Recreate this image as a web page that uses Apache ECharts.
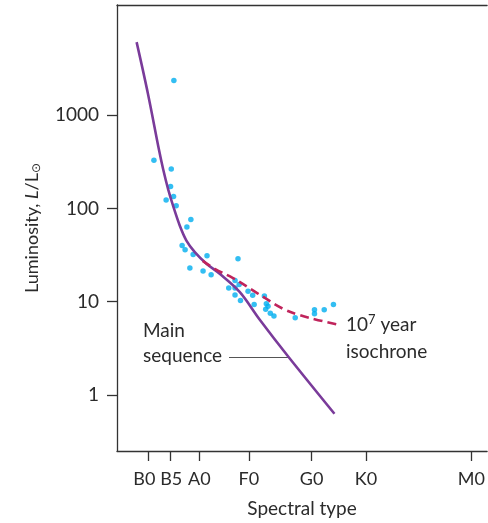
<!DOCTYPE html>
<html>
<head>
<meta charset="utf-8">
<script src="https://cdn.jsdelivr.net/npm/echarts@6/dist/echarts.min.js"></script>
<style>
html,body{margin:0;padding:0;background:#fff;}
#chart{width:488px;height:523px;}
</style>
</head>
<body>
<div id="chart"></div>
<script>
// Spectral-type tick positions (colour-index-like units) and labels
const spectralTicks = [-0.31, -0.18, 0.0, 0.30, 0.68, 1.01, 1.65];
const spectralLabels = ['B0', 'B5', 'A0', 'F0', 'G0', 'K0', 'M0'];
// Luminosity tick labels
const lumTicks = [1, 10, 100, 1000];

// Cluster stars: [spectral position, luminosity L/Lsun]
const starX = [-0.155, -0.276, -0.171, -0.175, -0.157, -0.202, -0.141, -0.052, -0.076, -0.105,
  -0.087, -0.038, 0.046, -0.058, 0.022, 0.071, 0.234, 0.216, 0.241, 0.178,
  0.216, 0.216, 0.249, 0.295, 0.323, 0.332, 0.394, 0.406, 0.416, 0.402,
  0.430, 0.452, 0.581, 0.698, 0.698, 0.757, 0.813];
const starL = [2360, 328, 265, 172, 134, 123, 107, 76, 63, 40,
  36, 32, 31, 23, 21.3, 19.4, 28.8, 16.9, 15.3, 14.0,
  14.0, 11.8, 10.3, 12.9, 11.7, 9.3, 11.5, 9.5, 8.9, 8.3,
  7.5, 7.0, 6.7, 8.2, 7.4, 8.2, 9.3];

// Main sequence curve
const msX = [-0.381, -0.312, -0.246, -0.220, -0.190, -0.160, -0.119, -0.079, -0.028, 0.043, 0.123, 0.244, 0.365, 0.536, 0.819];
const msL = [6075, 1690, 430, 263, 161, 107, 65.3, 45.2, 34.0, 25.5, 19.9, 12.7, 6.43, 2.61, 0.627];

// 10^7 year isochrone
const isoX = [0.020, 0.093, 0.204, 0.355, 0.506, 0.597, 0.698, 0.839];
const isoL = [27.4, 22.5, 17.9, 12.2, 8.4, 7.27, 6.48, 5.69];

const zip = (a, b) => a.map((v, i) => [v, b[i]]);

const FONT = 'Lato';
const TXT = '#2b2b2b';
const AX = '#333';

// Split ticks across two bottom axes so closely spaced labels are not auto-hidden
const ticksA = spectralTicks.filter((v, i) => i % 2 === 0);
const ticksB = spectralTicks.filter((v, i) => i % 2 === 1);
const specFmt = v => {
  for (let i = 0; i < spectralTicks.length; i++) {
    if (Math.abs(v - spectralTicks[i]) < 1e-6) {
      if (i === 0) return '{l|' + spectralLabels[i] + '}';
      if (i === 1) return '{r|' + spectralLabels[i] + '}';
      return spectralLabels[i];
    }
  }
  return '';
};
const bottomAxis = (ticks, showLine, withName) => ({
  type: 'value', min: -0.5, max: 1.745, position: 'bottom', offset: 0,
  name: withName ? 'Spectral type' : '', nameLocation: 'middle', nameGap: 48,
  nameTextStyle: {fontFamily: FONT, fontSize: 19, color: TXT},
  axisLine: {show: showLine, onZero: false, lineStyle: {color: AX, width: 1.3}},
  axisTick: {show: true, inside: false, length: 10, customValues: ticks, lineStyle: {color: AX, width: 1.3}},
  axisLabel: {
    customValues: ticks, margin: 19, hideOverlap: false,
    showMinLabel: true, showMaxLabel: true,
    fontFamily: FONT, fontSize: 18, color: TXT, formatter: specFmt,
    rich: {
      l: {fontFamily: FONT, fontSize: 18, color: TXT, padding: [0, 8, 0, 0]},
      r: {fontFamily: FONT, fontSize: 18, color: TXT, padding: [0, 0, 0, 3]}
    }
  },
  splitLine: {show: false}
});

const chart = echarts.init(document.getElementById('chart'), null, {renderer: 'canvas'});
chart.setOption({
  animation: false,
  backgroundColor: '#fff',
  grid: {left: 117, right: 0, top: 5, bottom: 70, containLabel: false},
  xAxis: [
    bottomAxis(ticksA, true, true),
    {
      type: 'value', min: -0.5, max: 1.745, position: 'top',
      axisLine: {show: true, onZero: false, lineStyle: {color: AX, width: 1.3}},
      axisTick: {show: false}, axisLabel: {show: false}, splitLine: {show: false}
    },
    bottomAxis(ticksB, false, false)
  ],
  yAxis: {
    type: 'log', logBase: 10, min: 0.25, max: 15200,
    name: '{n|Luminosity, }{i|L}{n|/L}{s|⊙}',
    nameLocation: 'middle', nameGap: 74, nameRotate: 90,
    nameTextStyle: {
      color: TXT,
      rich: {
        n: {fontFamily: FONT, fontSize: 18, color: TXT, lineHeight: 22},
        i: {fontFamily: FONT, fontSize: 18, fontStyle: 'italic', color: TXT, lineHeight: 22},
        s: {fontFamily: 'DejaVu Sans', fontSize: 12, color: TXT, lineHeight: 12, verticalAlign: 'bottom'}
      }
    },
    axisLine: {show: true, onZero: false, lineStyle: {color: AX, width: 1.3}},
    axisTick: {show: true, inside: false, length: 10, customValues: lumTicks, lineStyle: {color: AX, width: 1.3}},
    axisLabel: {customValues: lumTicks, margin: 18, hideOverlap: false, showMinLabel: true, showMaxLabel: true,
      fontFamily: FONT, fontSize: 19, color: TXT,
      formatter: v => String(Math.round(v))},
    minorTick: {show: false},
    splitLine: {show: false}
  },
  series: [{
    name: 'Main sequence', type: 'line', data: zip(msX, msL), smooth: 0.35,
    showSymbol: false, symbol: 'none',
    lineStyle: {color: '#7a3b9a', width: 2.6}
  }, {
    name: 'isochrone', type: 'line', data: zip(isoX, isoL), smooth: 0.4,
    showSymbol: false, symbol: 'none',
    lineStyle: {color: '#c0245c', width: 2.6, type: [9, 5]}
  }, {
    name: 'stars', type: 'scatter', data: zip(starX, starL),
    symbol: 'circle', symbolSize: 5.5,
    itemStyle: {color: '#00aeef'}
  }],
  graphic: [
    {type: 'text', left: 143, top: 321, style: {text: 'Main', fontFamily: FONT, fontSize: 19, fill: TXT}},
    {type: 'text', left: 143, top: 346, style: {text: 'sequence', fontFamily: FONT, fontSize: 19, fill: TXT}},
    {type: 'line', shape: {x1: 229, y1: 357.5, x2: 288, y2: 357.5}, style: {stroke: '#555', lineWidth: 1}},
    {type: 'text', left: 346, top: 313, style: {
      text: '{n|10}{p|7}{n| year}',
      rich: {
        n: {fontFamily: FONT, fontSize: 19, fill: TXT, lineHeight: 24},
        p: {fontFamily: FONT, fontSize: 13, fill: TXT, lineHeight: 14, verticalAlign: 'top'}
      }}},
    {type: 'text', left: 346, top: 342, style: {text: 'isochrone', fontFamily: FONT, fontSize: 19, fill: TXT}}
  ]
});
</script>
</body>
</html>
